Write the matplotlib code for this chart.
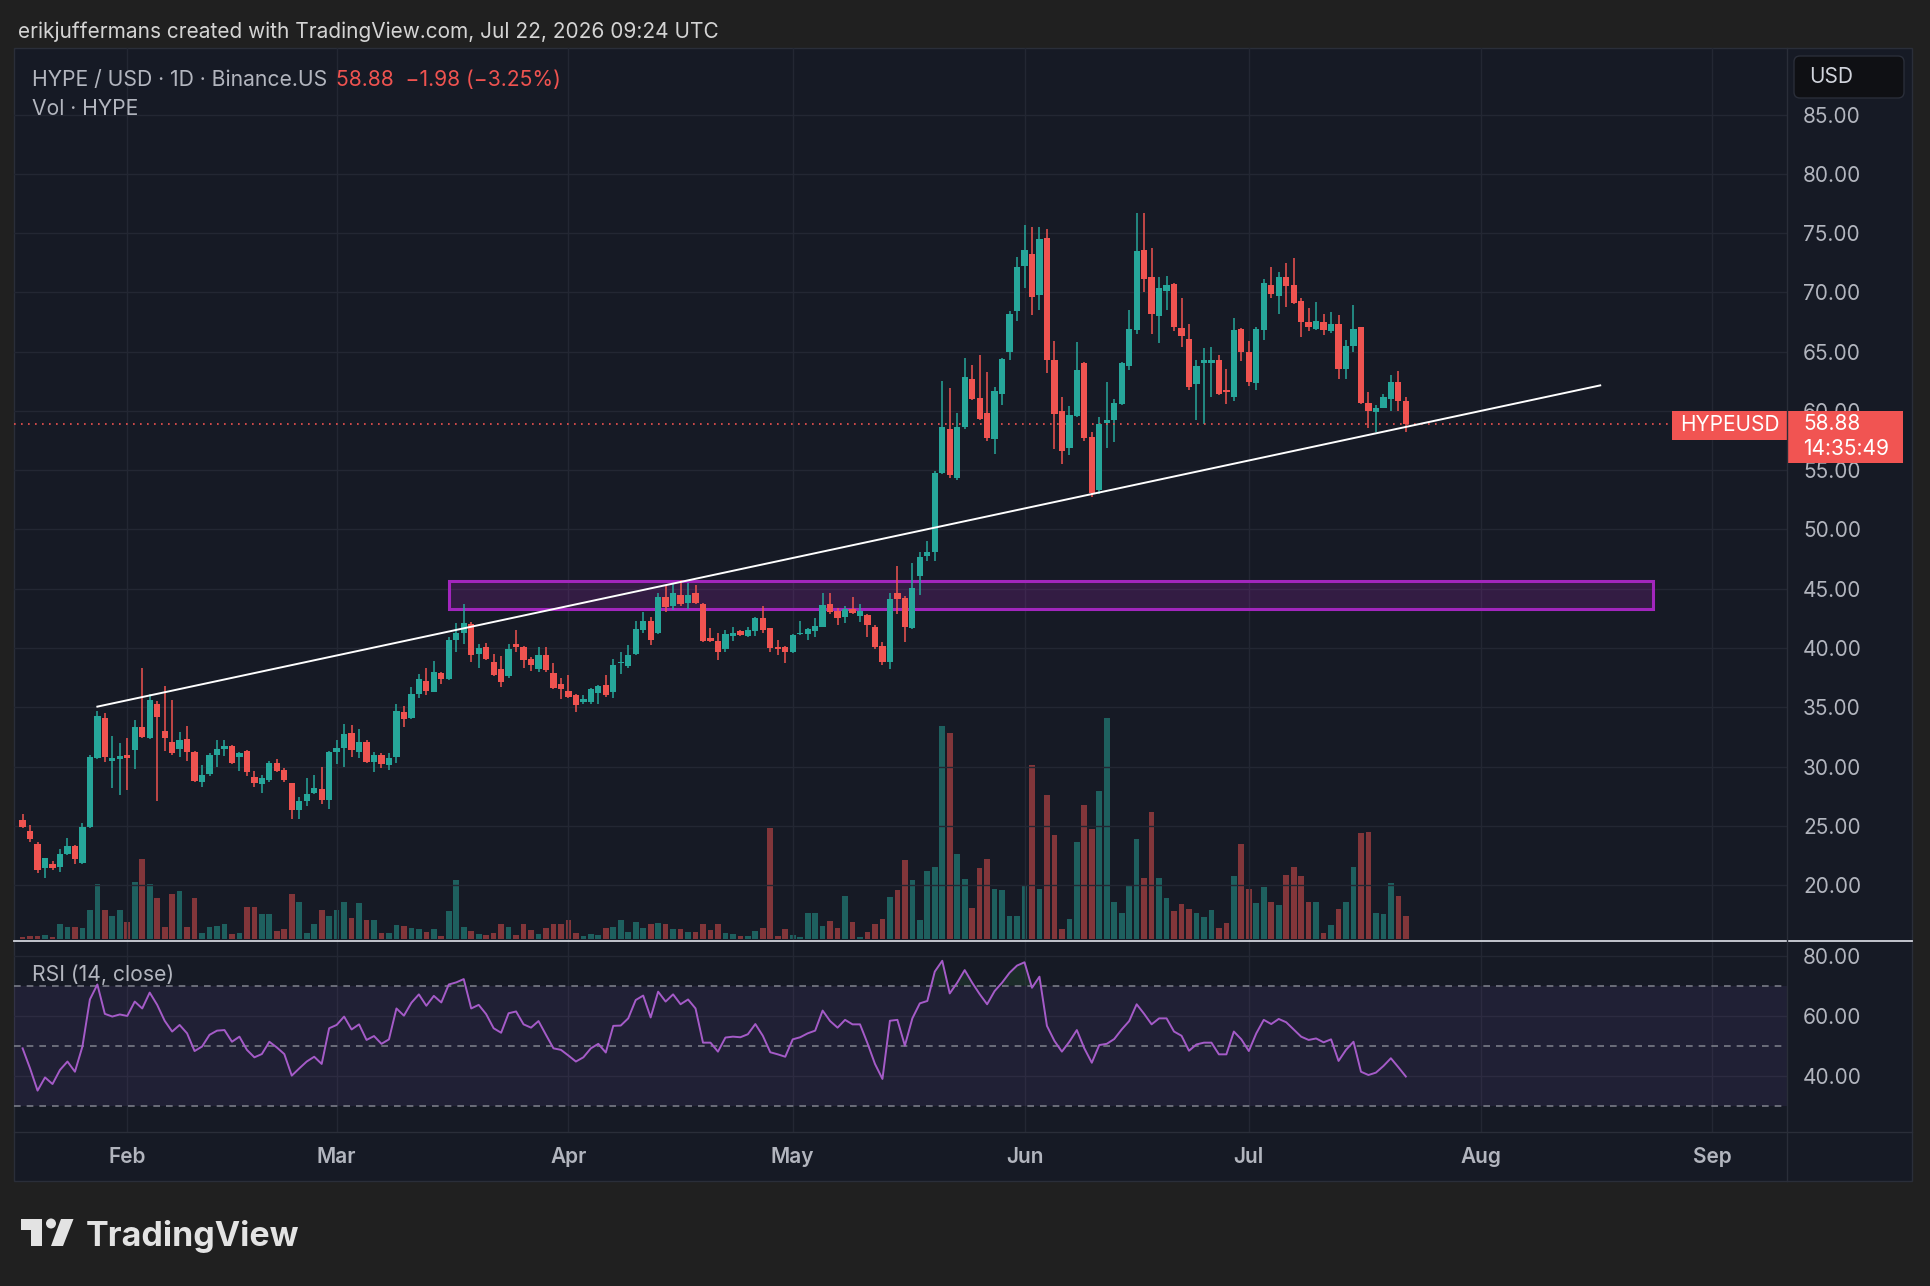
import numpy as np
import pandas as pd
import matplotlib
matplotlib.use('Agg')
import matplotlib.pyplot as plt
import matplotlib.transforms as mtransforms
from matplotlib.patches import Rectangle, FancyBboxPatch, Polygon, Circle
from matplotlib.ticker import FormatStrFormatter

plt.rcParams['font.family'] = ['Inter', 'DejaVu Sans']

# ---- data ----
start = '2026-01-18'
opens = [25.5, 24.6, 23.5, 21.4, 21.8, 21.5, 22.6, 23.3, 21.9, 24.9,
         30.7, 34.1, 30.5, 30.6, 31.0, 31.4, 33.3, 32.4, 35.3, 33.0,
         32.1, 31.5, 32.3, 31.2, 28.7, 29.4, 31.0, 31.5, 31.7, 30.8,
         31.3, 29.1, 28.5, 28.9, 30.3, 29.7, 28.6, 26.3, 27.1, 27.8,
         28.1, 27.2, 31.2, 31.6, 32.8, 31.2, 32.1, 30.4, 31.0, 30.1,
         30.8, 34.6, 34.1, 36.1, 37.2, 36.3, 37.9, 37.4, 40.7, 41.3,
         42.0, 39.5, 40.1, 38.85, 38.2, 37.65, 40.3, 40.1, 39.1, 38.2,
         39.4, 37.9, 37.0, 36.4, 36.0, 35.4, 35.4, 36.2, 36.9, 36.3,
         38.7, 38.5, 39.45, 41.5, 42.3, 41.3, 44.3, 43.5, 44.5, 43.8,
         44.65, 43.7, 40.85, 40.6, 39.9, 41.0, 41.4, 41.0, 41.4, 42.5,
         41.65, 40.1, 40.1, 39.7, 41.2, 41.2, 41.4, 41.8, 43.7, 43.1,
         42.6, 43.3, 42.7, 42.8, 41.8, 40.2, 38.85, 44.65, 44.2, 41.7,
         46.05, 47.75, 48.1, 54.8, 58.5, 54.3, 58.6, 62.7, 61.05, 59.85,
         57.6, 61.4, 65.0, 68.4, 72.2, 73.2, 69.8, 74.6, 64.3, 60.0,
         56.9, 59.6, 64.0, 57.8, 53.3, 59.0, 59.2, 60.6, 63.8, 66.8,
         73.6, 71.3, 68.0, 70.1, 70.7, 67.0, 66.1, 62.25, 64.0, 64.0,
         64.3, 61.8, 61.2, 66.9, 65.0, 62.35, 66.8, 70.6, 69.7, 71.3,
         70.6, 69.3, 67.5, 66.9, 67.5, 66.7, 67.3, 63.5, 65.5, 67.05,
         60.65, 59.9, 60.25, 61.0, 62.45, 60.86]
highs = [26.0, 25.1, 23.6, 22.3, 22.0, 23.0, 24.0, 23.4, 25.2, 31.0,
         34.7, 34.5, 32.6, 32.0, 32.4, 33.9, 38.3, 36.1, 35.5, 36.8,
         35.6, 32.9, 33.4, 31.3, 30.1, 31.1, 32.2, 32.2, 31.8, 31.2,
         31.4, 29.6, 29.3, 30.5, 30.6, 29.9, 28.6, 27.4, 29.0, 29.3,
         30.0, 31.3, 32.2, 33.6, 33.5, 33.2, 32.2, 31.2, 31.1, 31.1,
         35.3, 35.1, 36.7, 37.8, 38.3, 38.9, 38.0, 40.9, 42.1, 43.7,
         42.2, 40.3, 40.4, 39.5, 39.3, 40.3, 41.5, 40.2, 39.2, 40.1,
         40.05, 38.7, 37.5, 37.7, 36.1, 36.0, 36.6, 36.9, 37.7, 39.1,
         39.7, 40.25, 42.3, 43.05, 42.6, 44.6, 45.3, 45.5, 45.75, 45.5,
         45.3, 43.8, 41.7, 41.25, 41.5, 41.8, 41.5, 41.8, 42.6, 43.5,
         41.7, 40.7, 40.2, 41.2, 42.3, 41.7, 42.5, 44.6, 44.65, 43.4,
         43.5, 44.3, 43.7, 42.9, 41.9, 40.5, 44.65, 46.95, 44.4, 47.2,
         48.1, 49.0, 54.9, 62.5, 61.9, 59.8, 64.45, 63.9, 64.7, 63.3,
         62.0, 64.5, 68.4, 73.0, 75.7, 75.5, 75.5, 75.3, 65.9, 61.2,
         60.4, 65.8, 64.1, 58.25, 59.5, 62.4, 61.0, 64.1, 68.5, 76.7,
         76.7, 73.7, 71.3, 71.4, 70.8, 69.5, 67.3, 64.25, 65.3, 65.4,
         64.7, 63.5, 67.8, 67.0, 65.9, 67.1, 71.1, 72.1, 71.7, 72.5,
         72.9, 69.5, 68.7, 69.2, 68.2, 68.3, 68.1, 66.0, 68.9, 67.1,
         61.6, 60.5, 61.45, 63.0, 63.4, 61.2]
lows = [24.8, 23.6, 21.0, 20.6, 21.3, 21.1, 22.5, 21.8, 21.8, 24.8,
        30.6, 30.4, 28.2, 27.6, 28.0, 29.8, 32.4, 32.3, 27.1, 31.3,
        31.0, 30.8, 30.5, 28.7, 28.3, 29.2, 30.0, 30.9, 30.2, 29.6,
        29.2, 28.3, 27.8, 28.7, 29.5, 28.7, 25.6, 25.6, 26.7, 27.7,
        26.8, 26.4, 30.2, 30.0, 30.8, 30.7, 30.3, 29.5, 29.9, 29.7,
        30.3, 33.3, 34.0, 35.8, 36.0, 36.3, 37.0, 37.3, 39.7, 40.3,
        38.8, 38.3, 39.0, 37.6, 36.7, 37.5, 39.7, 38.3, 38.05, 38.0,
        38.0, 36.5, 35.7, 35.8, 34.6, 35.3, 35.3, 35.3, 35.9, 35.8,
        37.8, 38.3, 39.4, 41.3, 40.25, 41.2, 43.0, 43.2, 43.5, 43.25,
        43.7, 40.5, 40.5, 39.0, 39.7, 40.6, 41.0, 40.9, 41.0, 41.3,
        39.65, 39.4, 38.7, 39.6, 41.1, 40.7, 40.9, 41.8, 42.9, 41.9,
        42.1, 42.9, 42.2, 40.9, 39.9, 38.6, 38.25, 42.9, 40.5, 41.6,
        44.5, 47.3, 47.3, 54.7, 54.35, 54.2, 58.5, 60.9, 59.2, 57.5,
        56.4, 60.5, 64.25, 67.6, 70.4, 68.1, 68.5, 63.2, 56.75, 55.55,
        56.3, 59.5, 57.45, 52.75, 52.95, 56.9, 57.35, 60.5, 63.45, 66.5,
        70.0, 66.5, 65.7, 68.5, 66.7, 65.4, 61.8, 59.2, 58.9, 61.2,
        61.3, 60.6, 60.8, 64.2, 62.1, 61.8, 66.0, 69.5, 68.2, 68.8,
        69.0, 66.2, 66.7, 66.8, 66.4, 66.6, 62.65, 62.7, 65.0, 60.6,
        58.55, 58.25, 60.2, 60.0, 60.0, 58.2]
closes = [24.9, 23.9, 21.3, 22.3, 21.45, 22.6, 23.3, 22.2, 24.9, 30.8,
          34.3, 30.8, 30.7, 30.9, 30.7, 33.3, 32.5, 35.6, 34.2, 32.4,
          31.1, 32.2, 31.2, 28.8, 29.3, 31.0, 31.5, 31.7, 30.3, 31.1,
          29.5, 28.6, 29.0, 30.3, 29.6, 28.9, 26.3, 27.1, 27.7, 28.2,
          27.2, 31.2, 31.6, 32.7, 31.4, 32.1, 30.4, 31.0, 30.2, 30.7,
          34.7, 34.0, 36.1, 37.4, 36.4, 38.0, 37.4, 40.7, 41.3, 42.1,
          39.4, 40.0, 39.1, 37.7, 37.1, 39.9, 40.1, 39.0, 38.6, 39.4,
          38.1, 36.6, 36.5, 35.9, 35.2, 35.7, 36.5, 36.8, 36.0, 38.6,
          38.85, 39.4, 41.6, 42.3, 40.65, 44.3, 43.45, 44.6, 43.7, 44.5,
          43.8, 40.6, 40.6, 39.65, 41.2, 41.3, 41.1, 41.5, 42.5, 41.5,
          40.0, 39.9, 39.65, 41.1, 41.3, 41.6, 41.85, 43.65, 43.0, 42.5,
          43.3, 42.95, 43.1, 41.9, 40.1, 38.85, 44.1, 44.1, 41.8, 45.05,
          47.65, 48.1, 54.8, 58.6, 54.6, 58.65, 62.85, 61.0, 59.3, 57.7,
          61.65, 64.4, 68.2, 72.1, 73.6, 69.6, 74.5, 64.3, 59.7, 56.65,
          59.65, 63.45, 57.7, 53.1, 58.9, 59.25, 60.7, 64.0, 66.9, 73.5,
          71.1, 68.2, 70.4, 70.6, 67.1, 66.3, 62.05, 63.8, 64.25, 64.25,
          61.45, 61.6, 66.8, 65.0, 62.4, 66.9, 70.8, 69.9, 71.3, 70.5,
          69.1, 67.5, 67.1, 67.55, 66.8, 67.3, 63.5, 65.5, 66.9, 60.65,
          60.0, 60.25, 61.2, 62.45, 60.86, 58.88]
volumes = [3, 6, 6, 8, 3, 30, 25, 25, 23, 60,
           115, 60, 48, 60, 35, 120, 168, 115, 85, 25,
           95, 100, 25, 85, 12, 25, 27, 30, 10, 12,
           67, 67, 52, 52, 17, 20, 95, 78, 12, 30,
           60, 47, 60, 77, 43, 75, 40, 40, 13, 13,
           28, 27, 22, 20, 15, 20, 5, 58, 123, 25,
           17, 10, 7, 13, 30, 25, 8, 30, 19, 10,
           22, 32, 30, 40, 13, 5, 10, 8, 23, 25,
           40, 15, 35, 22, 32, 33, 30, 20, 20, 15,
           14, 32, 18, 32, 13, 10, 6, 6, 17, 22,
           233, 5, 20, 8, 4, 55, 55, 27, 38, 23,
           90, 35, 4, 14, 32, 42, 88, 103, 165, 123,
           40, 143, 150, 448, 433, 178, 125, 65, 148, 168,
           105, 103, 47, 47, 112, 365, 105, 303, 218, 20,
           42, 203, 282, 232, 310, 465, 77, 55, 110, 210,
           128, 267, 128, 85, 58, 73, 62, 55, 45, 60,
           23, 33, 133, 200, 105, 75, 108, 78, 70, 135,
           152, 133, 77, 78, 13, 28, 63, 77, 150, 222,
           225, 55, 52, 118, 90, 48]
rsi = [49.1, 42.4, 35.0, 39.4, 37.2, 41.9, 44.7, 41.3, 49.7, 65.4,
       70.4, 60.6, 59.7, 60.4, 59.9, 64.7, 62.4, 67.7, 63.6, 58.3,
       54.7, 56.9, 54.1, 48.2, 49.7, 53.6, 55.0, 55.2, 51.3, 53.0,
       48.6, 46.1, 47.2, 51.3, 49.4, 47.2, 40.0, 42.4, 44.7, 46.3,
       43.9, 55.8, 56.9, 59.7, 55.4, 57.1, 51.9, 53.2, 50.6, 52.1,
       62.4, 60.0, 64.3, 67.1, 63.3, 66.6, 64.4, 70.4, 71.1, 72.2,
       62.4, 63.6, 60.5, 55.8, 54.3, 60.8, 61.4, 57.1, 56.0, 58.2,
       53.6, 49.1, 48.6, 46.7, 44.7, 46.1, 49.1, 50.6, 47.7, 56.6,
       56.7, 59.1, 65.2, 66.7, 59.4, 68.0, 64.7, 67.1, 63.8, 65.4,
       62.4, 51.0, 51.0, 48.0, 52.7, 53.0, 52.8, 53.8, 57.2, 53.3,
       47.8, 47.1, 46.3, 52.1, 52.8, 54.1, 55.0, 61.7, 58.2, 56.0,
       58.6, 57.1, 57.1, 50.8, 43.9, 38.9, 58.3, 58.6, 50.0, 59.1,
       64.1, 64.9, 74.7, 78.3, 67.4, 71.0, 75.2, 71.0, 67.2, 63.8,
       68.2, 71.0, 74.3, 76.7, 77.8, 69.3, 73.0, 56.6, 51.6, 48.0,
       51.3, 55.2, 49.1, 44.3, 50.2, 50.6, 52.2, 55.4, 58.2, 63.8,
       60.6, 57.1, 59.1, 59.1, 54.7, 53.3, 48.3, 50.4, 51.0, 51.0,
       47.1, 47.1, 54.7, 52.1, 48.2, 54.1, 58.6, 57.2, 58.9, 57.8,
       55.4, 53.0, 51.9, 52.4, 51.1, 52.1, 44.9, 48.6, 51.3, 41.3,
       40.2, 41.0, 43.2, 45.8, 42.8, 39.7]

month_labels = ['Feb', 'Mar', 'Apr', 'May', 'Jun', 'Jul', 'Aug', 'Sep']
price_ticks = list(range(20, 90, 5))
rsi_ticks = [40, 60, 80]
rsi_levels = [30, 50, 70]
trend_dates = ['2026-01-28', '2026-08-17']
trend_prices = [35.05, 62.15]
zone_dates = ['2026-03-16', '2026-08-24']
zone_prices = [43.32, 45.65]
countdown = '14:35:49'

# ---- colours ----
UP, DOWN = '#26a69a', '#ef5350'
TAG = '#f15452'
BG_OUT, BG = '#202020', '#161a25'
GRID = '#232733'
TXT = '#b2b5be'
FS = 15

opens, highs, lows, closes = map(np.array, (opens, highs, lows, closes))
volumes, rsi = np.array(volumes), np.array(rsi)
dates = pd.date_range(start, periods=len(closes), freq='D')
t0 = dates[0]
x = np.array((dates - t0).days)
def dpos(s):
    return (pd.Timestamp(s) - t0).days
month_pos = [(m - t0).days for m in pd.date_range('2026-02-01', periods=len(month_labels), freq='MS')]

W, H = 1930, 1286
fig = plt.figure(figsize=(W / 100, H / 100), dpi=100)
fig.patch.set_facecolor(BG_OUT)

def rect(x0, y0, x1, y1):
    return [x0 / W, 1 - y1 / H, (x1 - x0) / W, (y1 - y0) / H]

# background layer in pixel coordinates
ovb = fig.add_axes([0, 0, 1, 1], zorder=0)
ovb.set_xlim(0, W); ovb.set_ylim(H, 0); ovb.axis('off')
ovb.add_patch(Rectangle((14, 48), 1898, 1133, facecolor=BG, edgecolor='#2a2e39', lw=1))

xlim = (-1.15, 235.98)

# volume
axv = fig.add_axes(rect(14, 48, 1787, 941), zorder=1)
axv.set_facecolor('none'); axv.axis('off')
axv.set_xlim(xlim); axv.set_ylim(-4.8, 1875)
up = closes >= opens
vcol = np.where(up, UP, DOWN)
axv.bar(x, volumes, width=0.76, color=vcol, alpha=0.5, lw=0)

# price
ax = fig.add_axes(rect(14, 48, 1787, 941), zorder=2)
ax.set_facecolor('none')
ax.set_xlim(xlim); ax.set_ylim(15.28, 90.61)
for s in ax.spines.values():
    s.set_visible(False)
ax.set_xticks(month_pos)
ax.set_yticks(price_ticks)
ax.grid(color=GRID, lw=1)
ax.set_axisbelow(True)
ax.yaxis.tick_right()
ax.yaxis.set_major_formatter(FormatStrFormatter('%.2f'))
ax.tick_params(axis='y', length=0, pad=11.5, labelsize=FS, labelcolor=TXT)
ax.tick_params(axis='x', length=0, labelbottom=False)

# zone + trend line
z0, z1 = dpos(zone_dates[0]), dpos(zone_dates[1])
ax.add_patch(Rectangle((z0, zone_prices[0]), z1 - z0, zone_prices[1] - zone_prices[0],
                       facecolor='#9c27b0', alpha=0.22, lw=0, zorder=1))
ax.add_patch(Rectangle((z0, zone_prices[0]), z1 - z0, zone_prices[1] - zone_prices[0],
                       facecolor='none', edgecolor='#a226bd', lw=2.2, zorder=1))
ax.plot([dpos(d) for d in trend_dates], trend_prices, color='white', lw=1.4, zorder=4)

# candles
ccol = np.where(up, UP, DOWN)
ax.vlines(x, lows, highs, color=ccol, lw=1.1, zorder=2)
body_lo = np.minimum(opens, closes)
body_h = np.maximum(np.abs(closes - opens), 0.08)
ax.bar(x, body_h, bottom=body_lo, width=0.84, color=ccol, lw=0, zorder=3)

last = closes[-1]
chg = closes[-1] - closes[-2]
pct = chg / closes[-2] * 100
ax.axhline(last, xmin=0, xmax=0.935, color=DOWN, lw=1.2, ls=(0, (1, 3.2)), zorder=2)

# price tags
tr = mtransforms.blended_transform_factory(ax.transAxes, ax.transData)
ax.add_patch(Rectangle((1.0, last - 3.31), 0.0654, 4.46, transform=tr, clip_on=False,
                       facecolor=TAG, lw=0, zorder=6))
ax.text(1.0 + 16 / 1773, last, f'{last:.2f}', transform=tr, color='white', fontsize=FS,
        va='center', ha='left', zorder=7, clip_on=False)
ax.text(1.0 + 16 / 1773, last - 2.08, countdown, transform=tr, color='white', fontsize=FS,
        va='center', ha='left', zorder=7, clip_on=False)
ax.add_patch(Rectangle((0.9351, last - 1.34), 0.0649, 2.49, transform=tr, clip_on=False,
                       facecolor=TAG, lw=0, zorder=6))
ax.text(0.9675, last - 0.09, 'HYPEUSD', transform=tr, color='white', fontsize=FS,
        va='center', ha='center', zorder=7, clip_on=False)

# RSI
axr = fig.add_axes(rect(14, 941, 1787, 1132), zorder=2)
axr.set_facecolor('none')
axr.set_xlim(xlim); axr.set_ylim(21.2, 84.9)
for s in axr.spines.values():
    s.set_visible(False)
axr.set_xticks(month_pos)
axr.set_xticklabels(month_labels)
axr.set_yticks(rsi_ticks)
axr.grid(color=GRID, lw=1)
axr.set_axisbelow(True)
axr.yaxis.tick_right()
axr.yaxis.set_major_formatter(FormatStrFormatter('%.2f'))
axr.tick_params(axis='y', length=0, pad=11.5, labelsize=FS, labelcolor=TXT)
axr.tick_params(axis='x', length=0, pad=11, labelsize=FS, labelcolor=TXT)
for t in axr.get_xticklabels():
    t.set_fontweight('semibold')
axr.axhspan(rsi_levels[0], rsi_levels[-1], color='#7e57c2', alpha=0.1, lw=0)
for lvl in rsi_levels:
    axr.axhline(lvl, color='#787b86', lw=1.2, ls=(0, (4, 3.6)))
axr.fill_between(x, rsi, 70, where=rsi > 70, interpolate=True, color='#4caf50', alpha=0.12, lw=0)
axr.plot(x, rsi, color='#a55bc8', lw=1.4)

# overlay: separators, labels, logo
ovt = fig.add_axes([0, 0, 1, 1], zorder=5)
ovt.set_facecolor('none')
ovt.set_xlim(0, W); ovt.set_ylim(H, 0); ovt.axis('off')
ovt.plot([14, 1912], [941, 941], color='#d1d4dc', lw=1.3)
ovt.plot([14, 1912], [1132, 1132], color='#2a2e39', lw=1)
ovt.plot([1787, 1787], [48, 1181], color='#2a2e39', lw=1)
ovt.add_patch(FancyBboxPatch((1794, 56), 110, 42, boxstyle='round,pad=0,rounding_size=6',
                             facecolor='#0f1014', edgecolor='#2a2e39', lw=1))
ovt.text(1809, 77, 'USD', color='#d1d4dc', fontsize=FS, va='center', ha='left')

ovt.text(18, 37.5, 'erikjuffermans created with TradingView.com, Jul 22, 2026 09:24 UTC',
         color='#d4d4d4', fontsize=15, va='baseline', ha='left')
ovt.text(32, 86, 'HYPE / USD · 1D · Binance.US', color=TXT, fontsize=15.2, va='baseline')
ovt.text(336, 86, f'{last:.2f}  {chg:+.2f} ({pct:+.2f}%)'.replace('-', '\u2212'),
         color=DOWN, fontsize=15.2, va='baseline')
ovt.text(32, 115, 'Vol · HYPE', color=TXT, fontsize=15.2, va='baseline')
ovt.text(32, 980.7, 'RSI (14, close)', color=TXT, fontsize=15.2, va='baseline')

logo = '#e3e3e3'
ovt.add_patch(Polygon([(21, 1219), (42, 1219), (42, 1246), (31, 1246), (31, 1230), (21, 1230)],
                      closed=True, facecolor=logo, lw=0))
ovt.add_patch(Circle((51, 1223.5), 5, facecolor=logo, lw=0))
ovt.add_patch(Polygon([(61, 1219), (73.5, 1219), (63, 1246), (51, 1246)], closed=True,
                      facecolor=logo, lw=0))
ovt.text(86, 1246, 'TradingView', color=logo, fontsize=24.5, fontweight='bold',
         va='baseline', ha='left')

fig.savefig('out.png', dpi=100, facecolor=fig.get_facecolor())
